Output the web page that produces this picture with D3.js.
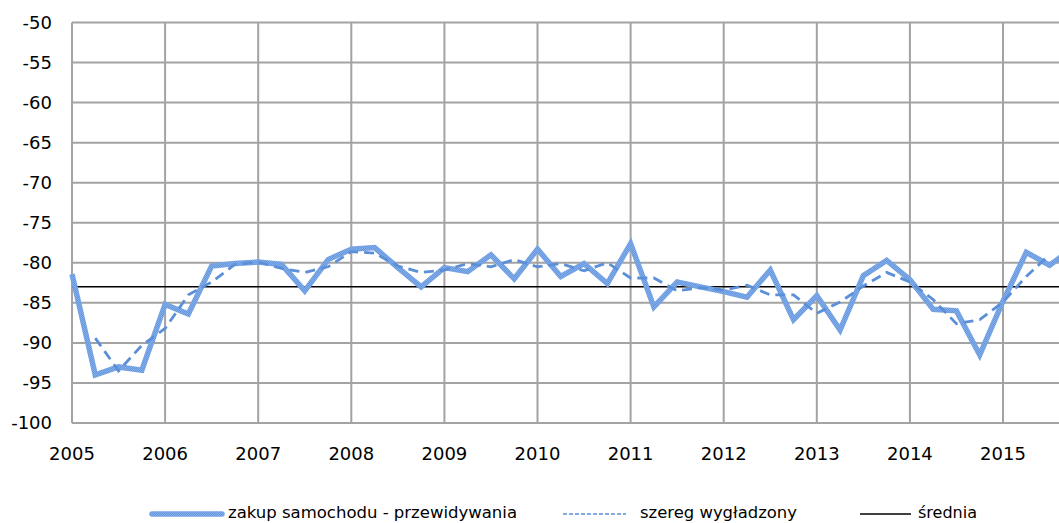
<!DOCTYPE html>
<html><head><meta charset="utf-8">
<script src="https://cdn.jsdelivr.net/npm/d3@7"></script>
<style>html,body{margin:0;padding:0;background:#fff;overflow:hidden}</style>
</head><body>
<script>
const quarters = ["2005Q1","2005Q2","2005Q3","2005Q4","2006Q1","2006Q2","2006Q3","2006Q4",
"2007Q1","2007Q2","2007Q3","2007Q4","2008Q1","2008Q2","2008Q3","2008Q4",
"2009Q1","2009Q2","2009Q3","2009Q4","2010Q1","2010Q2","2010Q3","2010Q4",
"2011Q1","2011Q2","2011Q3","2011Q4","2012Q1","2012Q2","2012Q3","2012Q4",
"2013Q1","2013Q2","2013Q3","2013Q4","2014Q1","2014Q2","2014Q3","2014Q4",
"2015Q1","2015Q2","2015Q3","2015Q4"];
const forecast = [-81.4,-94.0,-93.0,-93.4,-85.2,-86.4,-80.4,-80.1,
-79.9,-80.2,-83.5,-79.6,-78.3,-78.1,-80.6,-83.0,
-80.6,-81.1,-79.0,-82.0,-78.3,-81.7,-80.1,-82.6,
-77.6,-85.5,-82.4,-83.0,-83.6,-84.3,-80.9,-87.1,
-84.1,-88.4,-81.6,-79.7,-82.1,-85.8,-86.0,-91.5,
-84.8,-78.7,-80.3,-78.2];
const smoothed = [null,-89.4,-93.5,-90.3,-88.2,-84.0,-82.4,-80.2,
-79.9,-80.7,-81.2,-80.5,-78.6,-78.8,-80.4,-81.2,
-80.9,-80.1,-80.5,-79.6,-80.5,-80.1,-81.0,-80.0,
-81.9,-81.9,-83.5,-83.1,-83.4,-82.8,-84.0,-84.0,
-86.3,-84.9,-82.9,-81.2,-82.4,-84.6,-87.6,-87.1,
-84.9,-81.7,-79.0,null];
const meanValue = -83;
const yTicks = [-100,-95,-90,-85,-80,-75,-70,-65,-60,-55,-50];
const xTicks = [2005,2006,2007,2008,2009,2010,2011,2012,2013,2014,2015];
const seriesNames = ["zakup samochodu - przewidywania","szereg wygładzony","średnia"];

const W = 1059, H = 523;
const svg = d3.select("body").append("svg").attr("width", W).attr("height", H)
  .style("font-family", "'DejaVu Sans', Verdana, sans-serif");

const defs = svg.append("defs");
const pat = defs.append("pattern").attr("id","tex").attr("patternUnits","userSpaceOnUse")
  .attr("width",2).attr("height",2);
pat.append("rect").attr("width",2).attr("height",2).attr("fill","#6898dd");
pat.append("rect").attr("width",1).attr("height",1).attr("fill","#82ade8");
pat.append("rect").attr("x",1).attr("y",1).attr("width",1).attr("height",1).attr("fill","#82ade8");

const qx = q => +q.slice(0,4) + (+q.slice(5)-1)/4;
const x = d3.scaleLinear().domain([2005, 2016]).range([72, 72 + 11*93.1]);
const y = d3.scaleLinear().domain([-100, -50]).range([423, 22.5]);

const grid = svg.append("g");
grid.selectAll("line.h").data(yTicks).join("line")
  .attr("x1", x(2005)).attr("x2", W).attr("y1", d=>y(d)).attr("y2", d=>y(d))
  .attr("stroke","#a3a3a3").attr("stroke-width",2);
grid.selectAll("line.v").data(xTicks).join("line")
  .attr("x1", d=>x(d)).attr("x2", d=>x(d)).attr("y1", y(-50)).attr("y2", y(-100))
  .attr("stroke","#a3a3a3").attr("stroke-width",2);

svg.append("g").selectAll("text").data(yTicks).join("text")
  .attr("x", 52).attr("y", d=>y(d)).attr("dy","0.36em").attr("text-anchor","end")
  .attr("font-size",18).attr("fill","#000").text(d=>d);
svg.append("g").selectAll("text").data(xTicks).join("text")
  .attr("x", d=>x(d)).attr("y", 460).attr("text-anchor","middle")
  .attr("font-size",18).attr("fill","#000").text(d=>d);

svg.append("line").attr("x1", x(2005)).attr("x2", W).attr("y1", y(meanValue)).attr("y2", y(meanValue))
  .attr("stroke","#000").attr("stroke-width",1.5);

const data = quarters.map((q,i)=>({t:qx(q), f:forecast[i], s:smoothed[i]}));
svg.append("path").datum(data)
  .attr("d", d3.line().x(d=>x(d.t)).y(d=>y(d.f)))
  .attr("fill","none").attr("stroke","url(#tex)").attr("stroke-width",5.5)
  .attr("stroke-linejoin","miter");
svg.append("path").datum(data.filter(d=>d.s!==null))
  .attr("d", d3.line().x(d=>x(d.t)).y(d=>y(d.s)))
  .attr("fill","none").attr("stroke","#5b8fd8").attr("stroke-width",2.8)
  .attr("stroke-dasharray","10,6");

const lg = svg.append("g");
const ly = 514;
lg.append("line").attr("x1",152).attr("x2",222).attr("y1",ly).attr("y2",ly)
  .attr("stroke","url(#tex)").attr("stroke-width",5.5).attr("stroke-linecap","round");
lg.append("line").attr("x1",563).attr("x2",626).attr("y1",ly).attr("y2",ly)
  .attr("stroke","#5b8fd8").attr("stroke-width",1.5).attr("stroke-dasharray","4,2");
lg.append("line").attr("x1",860).attr("x2",911).attr("y1",ly).attr("y2",ly)
  .attr("stroke","#000").attr("stroke-width",1.5);
const lx = [228, 640, 918], lw = [289, 157, 59];
lg.selectAll("text").data(seriesNames).join("text")
  .attr("x",(d,i)=>lx[i]).attr("y",518).attr("font-size",16).attr("fill","#000")
  .attr("textLength",(d,i)=>lw[i]).attr("lengthAdjust","spacingAndGlyphs")
  .text(d=>d);
</script>
</body></html>
